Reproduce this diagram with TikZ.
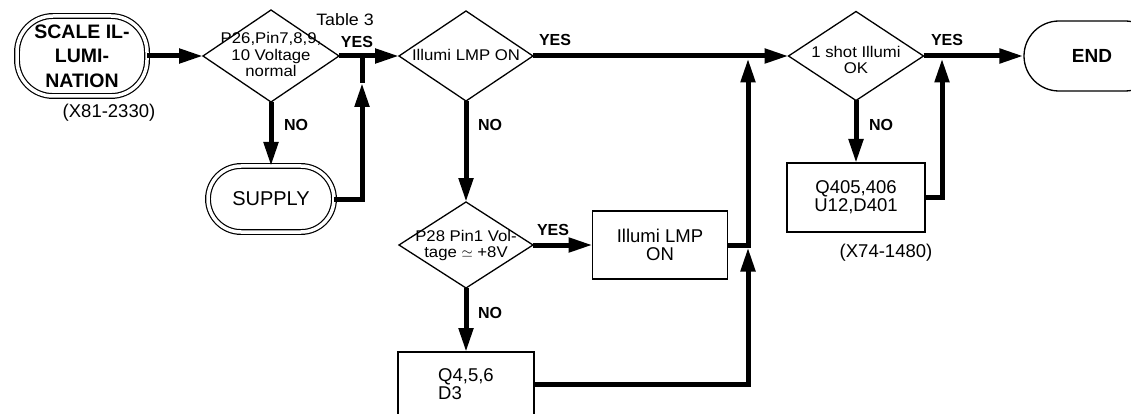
\documentclass[tikz,border=0pt]{standalone}
\usepackage{fontspec}
\setmainfont{Liberation Sans}
\newfontfamily\wideface[FakeStretch=1.08]{Liberation Sans}
\usepackage{tikz}
\usetikzlibrary{arrows.meta,positioning,shapes.geometric}
% text that may run over the diamond edges
\newcommand{\inside}[2][0pt]{\smash{\makebox[0pt]{\raisebox{-#1}{\raisebox{-.3em}{\begin{tabular}{@{}c@{}}#2\end{tabular}}}}}}

\begin{document}
\begin{tikzpicture}[
    x=1pt, y=-1pt,
    term/.style={draw, double, double distance=3.5pt, line width=1.2pt, rounded corners=#1,
                 inner sep=0pt, outer sep=0pt, align=center},
    dia/.style={draw, diamond, line width=1.3pt, inner sep=0pt, outer sep=0pt,
                font=\wideface\fontsize{15.5}{16.5}\selectfont},
    proc/.style={draw, rectangle, line width=1.3pt, inner sep=0pt, outer sep=0pt,
                 align=center, font=\fontsize{18.5}{18}\selectfont},
    flow/.style={line width=5pt, -{Triangle[length=24pt, width=14pt]}},
    wire/.style={line width=5pt},
    tag/.style={font=\bfseries\fontsize{16}{16}\selectfont},
    note/.style={font=\fontsize{18.5}{20}\selectfont}
]
\useasboundingbox (0,0) rectangle (1131,414);

% Start and supply check
\node[term=36pt, minimum width=130pt, minimum height=80pt,
      font=\bfseries\fontsize{19.5}{24.5}\selectfont] (scale) at (82,56) {SCALE IL-\\LUMI-\\NATION};
\node[note] (code1) at (109,113) {(X81-2330)};
\node[dia, minimum width=136pt, minimum height=92pt] (d1) at (271,56) {\inside{P26,Pin7,8,9,\\10 Voltage\\normal}};
\node[font=\wideface\fontsize{16.5}{16}\selectfont] (tab) at (345,20) {Table 3};
\node[term=33pt, minimum width=126pt, minimum height=66pt,
      font=\fontsize{20}{20}\selectfont] (supply) at (271,199) {SUPPLY};

% Lamp check
\node[dia, minimum width=134pt, minimum height=90pt] (d2) at (466,56) {\inside{Illumi LMP ON}};
\node[dia, minimum width=134pt, minimum height=86pt] (d3) at (466,245) {\inside{P28 Pin1 Vol-\\tage $\simeq$ +8V}};
\node[proc, minimum width=135pt, minimum height=68pt] (lmp) at (660,245) {Illumi LMP\\ON};
\node[proc, minimum width=136pt, minimum height=64pt, align=left] (q4) at (466,384) {Q4,5,6\\D3};

% One shot check
\node[dia, minimum width=135pt, minimum height=89pt] (d4) at (856,56) {\inside[5pt]{1 shot Illumi\\OK}};
\node[proc, minimum width=138pt, minimum height=69pt] (q405) at (856,197.5) {Q405,406\\U12,D401};
\node[note] (code2) at (886,253) {(X74-1480)};
\node[draw, line width=1.3pt, rounded corners=35pt, minimum width=136pt, minimum height=70pt,
      font=\bfseries\fontsize{19}{19}\selectfont] (done) at (1092,56) {END};

% Junctions
\coordinate (j1) at (362,56);
\coordinate (j1tip) at (362,83);
\coordinate (j2) at (748,58.5);
\coordinate (j3) at (748,247.5);
\coordinate (j4) at (942,58.5);

% Arrows
\draw[flow] (scale.east) -- (d1.west);
\draw[flow] (d1.east) -- (d2.west);
\draw[flow] (d1.south) -- (supply.north);
\draw[flow] (supply.east) -| (j1tip);
\draw[wire] (j1tip) -- (j1);
\draw[flow] (d2.east) -- (d4.west);
\draw[flow] (d2.south) -- (d3.north);
\draw[flow] (d3.east) -- (lmp.west);
\draw[flow] (d3.south) -- (q4.north);
\draw[flow] (lmp.east) -| (j2);
\draw[flow] (q4.east) -| (j3);
\draw[flow] (d4.east) -- (done.west);
\draw[flow] (d4.south) -- (q405.north);
\draw[flow] (q405.east) -| (j4);

% Branch labels
\node[tag] (yes1) at (357,42) {YES};
\node[tag] (yes2) at (555,40) {YES};
\node[tag] (yes3) at (553,230) {YES};
\node[tag] (yes4) at (947,40) {YES};
\node[tag] (no1) at (296,125) {NO};
\node[tag] (no2) at (490,125) {NO};
\node[tag] (no3) at (490,313) {NO};
\node[tag] (no4) at (881,125) {NO};

\end{tikzpicture}
\end{document}
